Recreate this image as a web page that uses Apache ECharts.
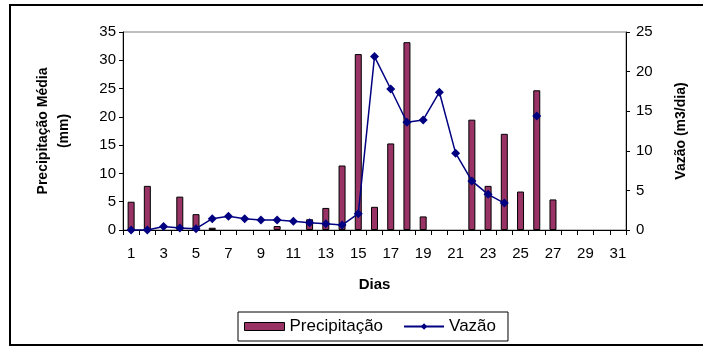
<!DOCTYPE html>
<html>
<head>
<meta charset="utf-8">
<script src="https://cdn.jsdelivr.net/npm/echarts@6/dist/echarts.min.js"></script>
<style>
  html, body { margin: 0; padding: 0; background: #fff; }
  #chart { width: 703px; height: 347px; }
</style>
</head>
<body>
<div id="chart"></div>
<script>
// Days of the month
const dias = [];
for (let d = 1; d <= 31; d++) dias.push(String(d));

// Average daily precipitation (mm); '-' = no rain recorded
const precipitacao = [5.0, 7.8, '-', 5.9, 2.8, 0.4, '-', '-', '-', 0.7, '-', 1.9, 3.9, 11.4, 31.1, 4.1, 15.3, 33.2, 2.4, '-', '-', 19.5, 7.8, 17.0, 6.8, 24.7, 5.4, '-', '-', '-', '-'];

// Daily flow (m3/dia); '-' = no measurement
const vazao = [0.0, 0.0, 0.45, 0.25, 0.17, 1.43, 1.73, 1.43, 1.26, 1.26, 1.09, 0.93, 0.8, 0.62, 2.06, 21.9, 17.8, 13.6, 13.9, 17.4, 9.7, 6.2, 4.5, 3.4, '-', 14.4, '-', '-', '-', '-', '-'];

// Axis tick ranges
const precipMax = 35, precipStep = 5;
const vazaoMax = 25, vazaoStep = 5;

const font = 'Liberation Sans, Arial, sans-serif';
const chart = echarts.init(document.getElementById('chart'), null, { renderer: 'canvas' });

chart.setOption({
  animation: false,
  backgroundColor: '#ffffff',
  textStyle: { fontFamily: font },
  graphic: [{
    type: 'rect',
    shape: { x: 10, y: 5, width: 700, height: 340 },
    style: { fill: 'none', stroke: '#000', lineWidth: 2 },
    z: 100
  }],
  grid: {
    left: 123, right: 77, top: 32, bottom: 117,
    show: true, borderColor: '#808080', borderWidth: 1, backgroundColor: 'transparent'
  },
  legend: {
    bottom: 6, left: 238,
    itemGap: 20,
    padding: [6, 12, 6, 6],
    borderColor: '#000', borderWidth: 1,
    textStyle: { fontFamily: font, fontSize: 17, color: '#000' },
    data: [
      { name: 'Precipitação', icon: 'rect', itemStyle: { color: '#993366', borderColor: '#000', borderWidth: 1 } },
      { name: 'Vazão' }
    ],
    itemWidth: 40, itemHeight: 8
  },
  xAxis: {
    type: 'category',
    data: dias,
    boundaryGap: true,
    name: 'Dias',
    nameLocation: 'middle',
    nameGap: 47,
    nameTextStyle: { fontFamily: font, fontSize: 15, fontWeight: 'bold', color: '#000' },
    axisLine: { lineStyle: { color: '#000', width: 1 } },
    axisTick: { show: true, interval: 0, length: 5, lineStyle: { color: '#000' } },
    axisLabel: { interval: 1, fontSize: 15, color: '#000', margin: 16, fontFamily: font }
  },
  yAxis: [{
    type: 'value',
    min: 0, max: precipMax, interval: precipStep,
    name: 'Precipitação Média\n(mm)',
    nameLocation: 'middle',
    nameRotate: 90,
    nameGap: 48,
    nameTextStyle: { fontFamily: font, fontSize: 14, fontWeight: 'bold', color: '#000', lineHeight: 21 },
    axisLine: { show: true, lineStyle: { color: '#000' } },
    axisTick: { show: true, length: 4, lineStyle: { color: '#000' } },
    splitLine: { show: false },
    axisLabel: { fontSize: 15, color: '#000', margin: 7, fontFamily: font }
  }, {
    type: 'value',
    min: 0, max: vazaoMax, interval: vazaoStep,
    name: 'Vazão (m3/dia)',
    nameLocation: 'middle',
    nameRotate: 90,
    nameGap: 48,
    nameTextStyle: { fontFamily: font, fontSize: 14, fontWeight: 'bold', color: '#000' },
    position: 'right',
    axisLine: { show: true, lineStyle: { color: '#000' } },
    axisTick: { show: true, length: 4, lineStyle: { color: '#000' } },
    splitLine: { show: false },
    axisLabel: { fontSize: 15, color: '#000', margin: 10, fontFamily: font }
  }],
  series: [{
    name: 'Precipitação',
    type: 'bar',
    yAxisIndex: 0,
    data: precipitacao,
    barWidth: 7,
    itemStyle: { color: '#993366', borderColor: '#000', borderWidth: 1 }
  }, {
    name: 'Vazão',
    type: 'line',
    yAxisIndex: 1,
    data: vazao,
    connectNulls: false,
    symbol: 'diamond',
    symbolSize: 9,
    lineStyle: { color: '#000080', width: 1.5 },
    itemStyle: { color: '#000080' },
    z: 3
  }]
});
</script>
</body>
</html>
